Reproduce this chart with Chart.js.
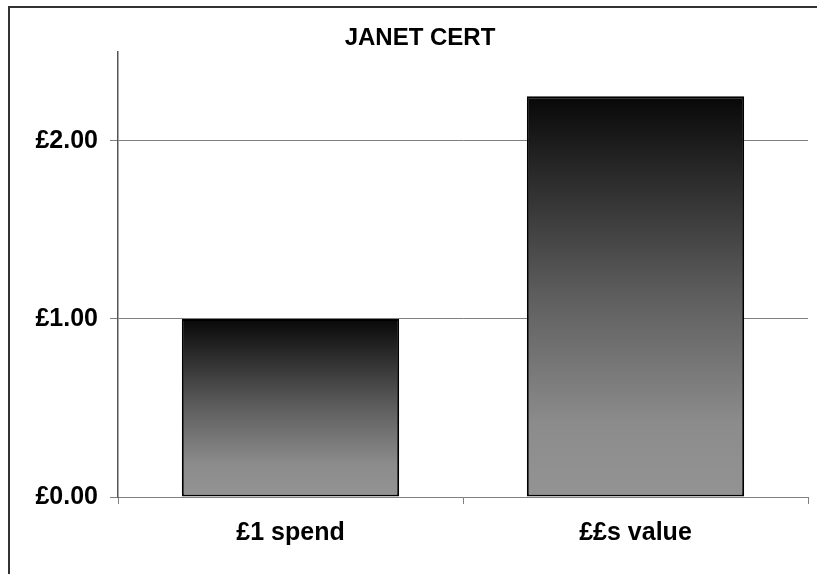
<!DOCTYPE html>
<html>
<head>
<meta charset="utf-8">
<script src="https://cdn.jsdelivr.net/npm/chart.js@4/dist/chart.umd.min.js"></script>
<style>
  html, body { margin: 0; padding: 0; width: 817px; height: 574px; overflow: hidden; background: #fff; }
  #frame { position: absolute; left: 8px; top: 6px; width: 1200px; height: 1200px; border-left: 2px solid #333; border-top: 2px solid #333; }
  #wrap { position: absolute; left: 0; top: 0; width: 840px; height: 574px; }
</style>
</head>
<body>
<div id="frame"></div>
<div id="wrap"><canvas id="c" width="840" height="574"></canvas></div>
<script>
const chartTitle = 'JANET CERT';
const categories = ['£1 spend', '££s value'];
const values = [1.00, 2.25];
const tickValues = [0, 1, 2];
const tickLabels = ['£0.00', '£1.00', '£2.00'];
const axisMin = 0;
const axisMax = 2.5;

const FONT = '"Liberation Sans", Arial, sans-serif';

function barGradient(ctx) {
  const chart = ctx.chart;
  if (!chart.chartArea || ctx.dataIndex === undefined) return '#808080';
  const y = chart.scales.y;
  const top = y.getPixelForValue(values[ctx.dataIndex]);
  const bottom = y.getPixelForValue(0);
  const g = chart.ctx.createLinearGradient(0, top, 0, bottom);
  g.addColorStop(0, '#080808');
  g.addColorStop(0.5, '#5e5e5e');
  g.addColorStop(0.82, '#8c8c8c');
  g.addColorStop(1, '#939393');
  return g;
}

new Chart(document.getElementById('c'), {
  type: 'bar',
  data: {
    labels: categories,
    datasets: [{
      data: values,
      backgroundColor: barGradient,
      borderColor: '#000',
      borderWidth: 2,
      borderSkipped: false,
      barPercentage: 0.63,
      categoryPercentage: 1.0
    }]
  },
  options: {
    responsive: false,
    animation: false,
    layout: { padding: 0 },
    plugins: {
      legend: { display: false },
      tooltip: { enabled: false },
      title: {
        display: true,
        text: chartTitle,
        color: '#000',
        font: { family: FONT, size: 24, weight: 'bold', lineHeight: 1.2 },
        padding: { top: 24, bottom: -1 }
      }
    },
    scales: {
      x: {
        grid: { display: true, drawOnChartArea: false, drawTicks: true, tickLength: 7, color: '#808080', offset: true },
        border: { display: true, color: '#808080', width: 1 },
        ticks: { color: '#000', padding: 14, font: { family: FONT, size: 25, weight: 'bold', lineHeight: 1.2 } },
        afterFit: s => { s.height = 77; }
      },
      y: {
        min: axisMin,
        max: axisMax,
        afterBuildTicks: s => { s.ticks = tickValues.map(v => ({ value: v })); },
        grid: { color: '#808080', lineWidth: 1, tickLength: 8, drawTicks: true },
        border: { display: true, color: '#555', width: 1.5 },
        ticks: {
          color: '#000', padding: 12,
          font: { family: FONT, size: 25, weight: 'bold' },
          callback: (v) => { const i = tickValues.indexOf(v); return i >= 0 ? tickLabels[i] : ''; }
        },
        afterFit: s => { s.width = 118; }
      },
      y2: {
        position: 'right',
        display: true,
        min: axisMin, max: axisMax,
        grid: { display: false, drawOnChartArea: false },
        border: { display: false },
        ticks: { display: false },
        afterFit: s => { s.width = 32; }
      }
    }
  }
});
</script>
</body>
</html>
